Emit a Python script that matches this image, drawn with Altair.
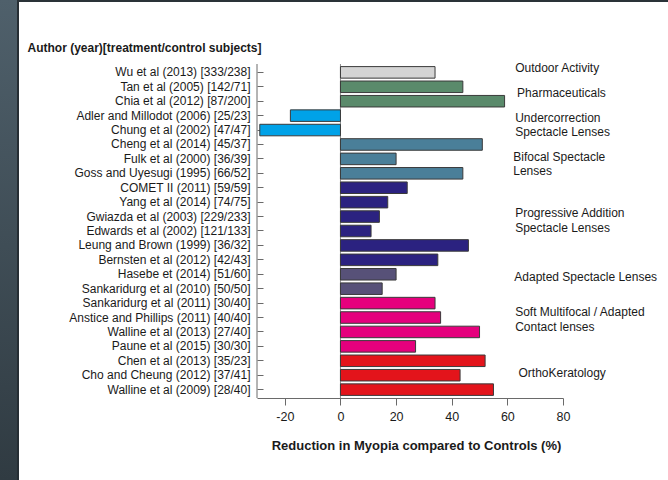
import altair as alt
import pandas as pd

# Studies (top to bottom), their myopia reduction (%) and treatment class
studies = [
    "Wu et al (2013) [333/238]",
    "Tan et al (2005) [142/71]",
    "Chia et al (2012) [87/200]",
    "Adler and Millodot (2006) [25/23]",
    "Chung et al (2002) [47/47]",
    "Cheng et al (2014) [45/37]",
    "Fulk et al (2000) [36/39]",
    "Goss and Uyesugi (1995) [66/52]",
    "COMET II (2011) [59/59]",
    "Yang et al (2014) [74/75]",
    "Gwiazda et al (2003) [229/233]",
    "Edwards et al (2002) [121/133]",
    "Leung and Brown (1999) [36/32]",
    "Bernsten et al (2012) [42/43]",
    "Hasebe et (2014) [51/60]",
    "Sankaridurg et al (2010) [50/50]",
    "Sankaridurg et al (2011) [30/40]",
    "Anstice and Phillips (2011) [40/40]",
    "Walline et al (2013) [27/40]",
    "Paune et al (2015) [30/30]",
    "Chen  et al (2013) [35/23]",
    "Cho and Cheung (2012) [37/41]",
    "Walline et al (2009) [28/40]",
]
reduction = [34, 44, 59, -18, -29, 51, 20, 44, 24, 17, 14, 11, 46, 35,
             20, 15, 34, 36, 50, 27, 52, 43, 55]
treatment = (
    ["outdoor"]
    + ["pharma"] * 2
    + ["under"] * 2
    + ["bifocal"] * 3
    + ["progressive"] * 6
    + ["adapted"] * 2
    + ["soft"] * 4
    + ["ortho"] * 3
)

group_names = ["outdoor", "pharma", "under", "bifocal", "progressive",
               "adapted", "soft", "ortho"]
group_colors = ["#d4d4d4", "#5a8a6b", "#00a2e8", "#4a7f99", "#2b2280",
                "#575178", "#e5007d", "#e3141b"]

x_ticks = [-20, 0, 20, 40, 60, 80]

# Treatment class captions, one entry per text line
note_lines = [
    "Outdoor Activity",
    "Pharmaceuticals",
    "Undercorrection",
    "Spectacle Lenses",
    "Bifocal Spectacle",
    "Lenses",
    "Progressive Addition",
    "Spectacle Lenses",
    "Adapted Spectacle Lenses",
    "Soft Multifocal / Adapted",
    "Contact lenses",
    "OrthoKeratology",
]
# caption placement: x in % units, y in row units from the top
note_x = [62.8, 63.5, 62.8, 62.8, 62.1, 62.1, 62.8, 62.8, 62.5, 62.8, 62.8, 64.0]
note_row = [0.30, 2.03, 3.77, 4.69, 6.43, 7.42, 10.35, 11.39, 14.79, 17.18,
            18.22, 21.45]

FONT = "Liberation Sans, Arial, sans-serif"
INK = "#1a1a1a"
AXIS_GREY = "#6a6a6a"

W, H = 306, 334
PAD_L, PAD_T = 257, 64

bars_df = pd.DataFrame({"study": studies, "reduction": reduction,
                        "treatment": treatment})
notes_df = pd.DataFrame({"label": note_lines, "x": note_x, "row": note_row})
one = pd.DataFrame({"k": [0]})

x_scale = alt.Scale(domain=[-30, 80], nice=False, zero=False)

# page frame: slate strip on the left and a thin dark edge along the top
slate = alt.Chart(one).mark_rect(
    fill=alt.Gradient(
        gradient="linear",
        stops=[alt.GradientStop(offset=0, color="#4f606b"),
               alt.GradientStop(offset=1, color="#303b42")],
        x1=0, x2=0, y1=0, y2=1,
    )
).encode(x=alt.value(-PAD_L), x2=alt.value(-PAD_L + 17),
         y=alt.value(-PAD_T), y2=alt.value(480 - PAD_T))
edge_left = alt.Chart(one).mark_rect(fill="#262e34").encode(
    x=alt.value(-PAD_L + 17), x2=alt.value(-PAD_L + 19),
    y=alt.value(-PAD_T), y2=alt.value(480 - PAD_T))
edge_top = alt.Chart(one).mark_rect(fill="#2a3238").encode(
    x=alt.value(-PAD_L + 17), x2=alt.value(668 - PAD_L),
    y=alt.value(-PAD_T), y2=alt.value(-PAD_T + 2))

# y axis line and the zero reference line
y_line = alt.Chart(one).mark_rule(color=AXIS_GREY, strokeWidth=1).encode(
    x=alt.value(0), y=alt.value(0), y2=alt.value(H))
zero_line = alt.Chart(one).mark_rule(color="#8c8c8c", strokeWidth=1).encode(
    x=alt.datum(0, scale=x_scale), y=alt.value(0), y2=alt.value(H))

bars = alt.Chart(bars_df).mark_bar(stroke="#3a3a3a", strokeWidth=1).encode(
    y=alt.Y(
        "study:N",
        sort=studies,
        scale=alt.Scale(paddingInner=0.2, paddingOuter=0.18),
        axis=alt.Axis(
            title="Author (year)[treatment/control subjects]",
            titleAngle=0, titleAlign="left", titleBaseline="alphabetic",
            titleX=-236, titleY=-13,
            titleFont=FONT, titleFontSize=12, titleFontWeight="bold",
            titleColor=INK,
            domain=False, ticks=True, tickSize=6, tickColor=AXIS_GREY,
            offset=-6, labelPadding=7, labelLimit=0,
            labelFont=FONT, labelFontSize=12, labelColor=INK,
        ),
    ),
    x=alt.X(
        "reduction:Q",
        scale=x_scale,
        axis=alt.Axis(
            values=x_ticks, grid=False,
            labelExpr="'' + datum.value",
            domainColor=AXIS_GREY, tickColor=AXIS_GREY, tickSize=7,
            labelFont=FONT, labelFontSize=12.5, labelColor=INK,
            labelPadding=5, labelFlush=False,
            title="Reduction in Myopia compared to Controls (%)",
            titleFont=FONT, titleFontSize=13, titleFontWeight="bold",
            titleColor=INK, titleX=159, titleY=47, titleBaseline="middle",
        ),
    ),
    color=alt.Color("treatment:N",
                    scale=alt.Scale(domain=group_names, range=group_colors),
                    legend=None),
)

notes = alt.Chart(notes_df).mark_text(
    align="left", baseline="middle", font=FONT, fontSize=12, color=INK
).encode(
    x=alt.X("x:Q", scale=x_scale),
    y=alt.Y("row:Q", scale=alt.Scale(domain=[0, 23.16], reverse=True,
                                     nice=False, zero=False), axis=None),
    text="label:N",
)

chart = alt.layer(
    slate, edge_left, edge_top, y_line, zero_line, bars, notes
).resolve_scale(y="independent").properties(
    width=W,
    height=H,
    padding={"left": PAD_L, "top": PAD_T, "right": 668 - PAD_L - W,
             "bottom": 480 - PAD_T - H},
    autosize=alt.AutoSizeParams(type="none"),
    background="white",
).configure_view(stroke=None)

chart.save("out.html", embed_options={"renderer": "svg", "actions": False})
